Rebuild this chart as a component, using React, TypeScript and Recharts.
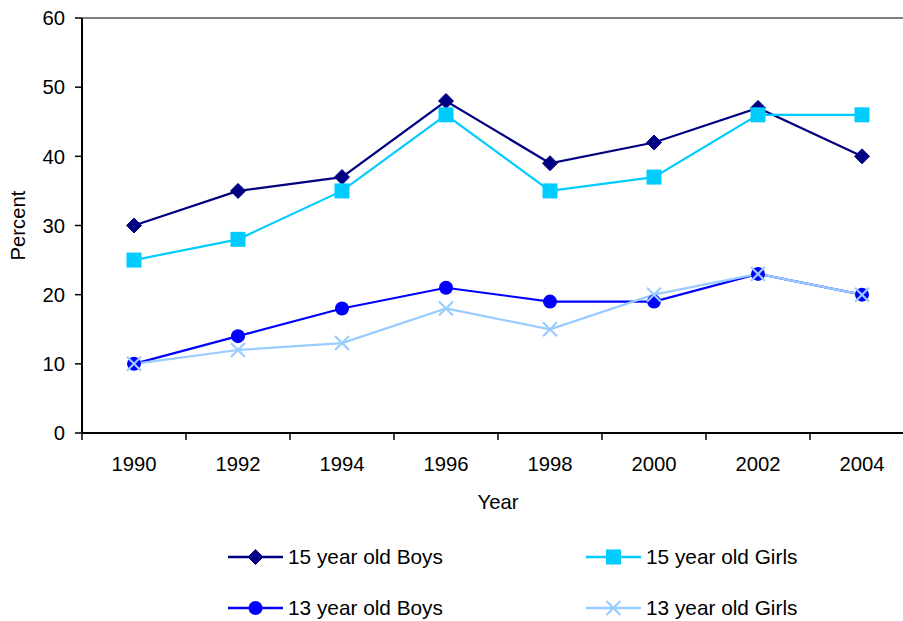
import React from 'react';
import { LineChart, Line, XAxis, YAxis, Legend, ReferenceLine } from 'recharts';

const years = ['1990', '1992', '1994', '1996', '1998', '2000', '2002', '2004'];
const boys15 = [30, 35, 37, 48, 39, 42, 47, 40];
const girls15 = [25, 28, 35, 46, 35, 37, 46, 46];
const boys13 = [10, 14, 18, 21, 19, 19, 23, 20];
const girls13 = [10, 12, 13, 18, 15, 20, 23, 20];
const yTicks = [0, 10, 20, 30, 40, 50, 60];

const data = years.map((y, i) => ({
  i,
  year: y,
  boys15: boys15[i],
  girls15: girls15[i],
  boys13: boys13[i],
  girls13: girls13[i],
}));

const xTicks: number[] = [];
for (let k = -0.5; k <= years.length - 0.5 + 1e-9; k += 0.5) xTicks.push(k);

const C_B15 = '#000080';
const C_G15 = '#00CCFF';
const C_B13 = '#0000FF';
const C_G13 = '#99CCFF';
const FONT = '"Liberation Sans", Arial, sans-serif';

type Shape = 'diamond' | 'square' | 'circle' | 'x';

function Marker({ cx, cy, shape, color }: { cx: number; cy: number; shape: Shape; color: string }) {
  if (cx == null || cy == null) return null;
  if (shape === 'diamond') {
    const r = 7.5;
    return <polygon points={`${cx},${cy - r} ${cx + r},${cy} ${cx},${cy + r} ${cx - r},${cy}`} fill={color} stroke={color} />;
  }
  if (shape === 'square') {
    const s = 7.5;
    return <rect x={cx - s} y={cy - s} width={2 * s} height={2 * s} fill={color} />;
  }
  if (shape === 'circle') {
    return <circle cx={cx} cy={cy} r={7} fill={color} />;
  }
  const a = 7;
  return (
    <g stroke={color} strokeWidth={2.2}>
      <line x1={cx - a} y1={cy - a} x2={cx + a} y2={cy + a} />
      <line x1={cx - a} y1={cy + a} x2={cx + a} y2={cy - a} />
    </g>
  );
}

const makeDot = (shape: Shape, color: string) => (props: any) => (
  <Marker key={`${shape}-${props.index}`} cx={props.cx} cy={props.cy} shape={shape} color={color} />
);

const XTick = (props: any) => {
  const { x, y, payload } = props;
  const v = payload.value;
  if (Number.isInteger(v)) {
    return (
      <text x={x} y={y + 38} textAnchor="middle" fill="#000" fontSize={20.3} fontFamily={FONT}>
        {years[v]}
      </text>
    );
  }
  return <line x1={x} y1={y} x2={x} y2={y + 7} stroke="#000" strokeWidth={1.5} />;
};

const legendItems: { name: string; color: string; shape: Shape; left: number; top: number }[] = [
  { name: '15 year old Boys', color: C_B15, shape: 'diamond', left: 228, top: 22 },
  { name: '15 year old Girls', color: C_G15, shape: 'square', left: 586, top: 22 },
  { name: '13 year old Boys', color: C_B13, shape: 'circle', left: 228, top: 73 },
  { name: '13 year old Girls', color: C_G13, shape: 'x', left: 586, top: 73 },
];

const renderLegend = () => (
  <div style={{ position: 'relative', height: 98, width: 914 }}>
    {legendItems.map((it) => (
      <div
        key={it.name}
        style={{
          position: 'absolute',
          left: it.left,
          top: it.top,
          height: 24,
          display: 'flex',
          alignItems: 'center',
          fontFamily: FONT,
          fontSize: 20.8,
          color: '#000',
          whiteSpace: 'nowrap',
        }}
      >
        <svg width={55} height={24} style={{ display: 'block' }}>
          <line x1={0} y1={12} x2={55} y2={12} stroke={it.color} strokeWidth={2.5} />
          <Marker cx={27.5} cy={12} shape={it.shape} color={it.color} />
        </svg>
        <span style={{ marginLeft: 5 }}>{it.name}</span>
      </div>
    ))}
  </div>
);

export default function App() {
  return (
    <div style={{ position: 'absolute', left: 0, top: 0, width: 903, height: 621, overflow: 'hidden', background: '#fff' }}>
      <LineChart width={930} height={621} data={data} margin={{ top: 18, right: 16, left: 0, bottom: 0 }}>
        <XAxis
          dataKey="i"
          type="number"
          domain={[-0.5, years.length - 0.5]}
          ticks={xTicks}
          interval={0}
          tick={<XTick />}
          tickLine={false}
          tickSize={0}
          tickMargin={0}
          height={90}
          axisLine={{ stroke: '#000', strokeWidth: 2 }}
          allowDataOverflow
          label={{ value: 'Year', position: 'insideBottom', offset: 14, fill: '#000', fontSize: 20.3, fontFamily: FONT }}
        />
        <YAxis
          type="number"
          domain={[0, 60]}
          ticks={yTicks}
          interval={0}
          width={82}
          tickSize={7}
          tickMargin={10}
          tick={{ fill: '#000', fontSize: 20.3, fontFamily: FONT }}
          tickLine={{ stroke: '#000', strokeWidth: 1.5 }}
          axisLine={{ stroke: '#000', strokeWidth: 2 }}
          label={{ value: 'Percent', angle: -90, position: 'insideLeft', offset: 18, fill: '#000', fontSize: 20.3, fontFamily: FONT, style: { textAnchor: 'middle' } }}
        />
        <ReferenceLine y={60} stroke="#808080" strokeWidth={2} ifOverflow="visible" />
        <Legend verticalAlign="bottom" content={renderLegend} />
        <Line dataKey="boys15" stroke={C_B15} strokeWidth={2.2} dot={makeDot('diamond', C_B15)} isAnimationActive={false} />
        <Line dataKey="girls15" stroke={C_G15} strokeWidth={2.2} dot={makeDot('square', C_G15)} isAnimationActive={false} />
        <Line dataKey="boys13" stroke={C_B13} strokeWidth={2.2} dot={makeDot('circle', C_B13)} isAnimationActive={false} />
        <Line dataKey="girls13" stroke={C_G13} strokeWidth={2.2} dot={makeDot('x', C_G13)} isAnimationActive={false} />
      </LineChart>
    </div>
  );
}
